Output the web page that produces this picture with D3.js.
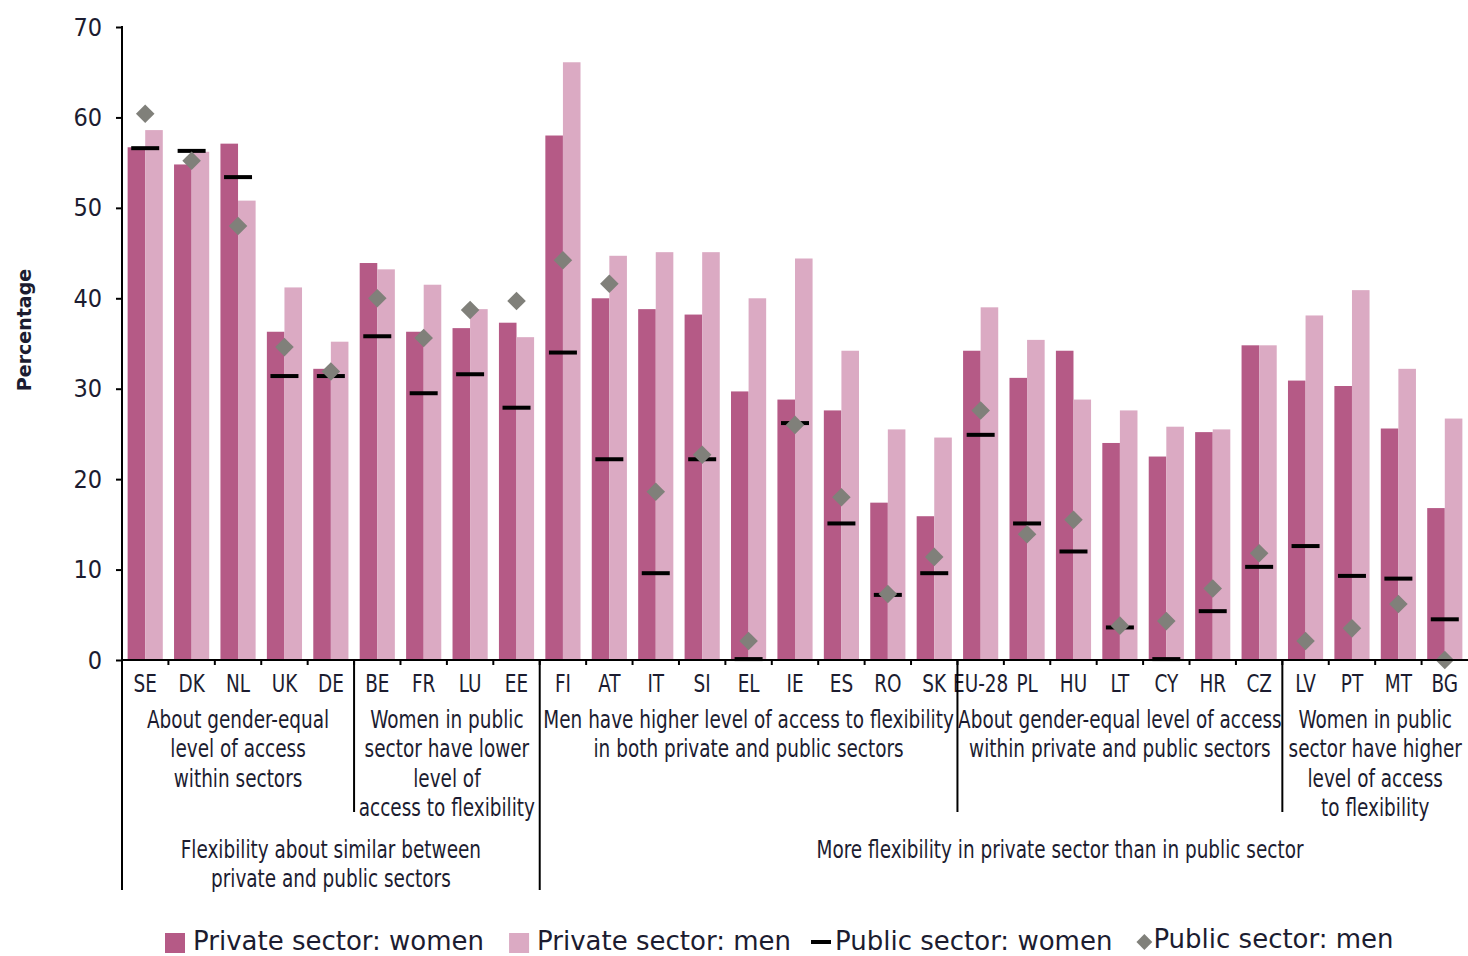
<!DOCTYPE html>
<meta charset="utf-8">
<style>
body { margin: 0; background: #fff; }
.narrow { font-family: 'Liberation Sans Narrow', 'DejaVu Sans Condensed', sans-serif; font-stretch: condensed; fill: #1c1c30; }
.legend text { font-family: 'DejaVu Sans', sans-serif; fill: #1c1c30; }
</style>
<body>
<script src="https://d3js.org/d3.v7.min.js"></script>
<script>

// data
var countries = ["SE","DK","NL","UK","DE","BE","FR","LU","EE","FI","AT","IT","SI","EL","IE","ES","RO","SK","EU-28","PL","HU","LT","CY","HR","CZ","LV","PT","MT","BG"];
var privWomen = [56.7,54.8,57.1,36.3,32.2,43.9,36.3,36.7,37.3,58.0,40.0,38.8,38.2,29.7,28.8,27.6,17.4,15.9,34.2,31.2,34.2,24.0,22.5,25.2,34.8,30.9,30.3,25.6,16.8];
var privMen   = [58.6,56.2,50.8,41.2,35.2,43.2,41.5,38.8,35.7,66.1,44.7,45.1,45.1,40.0,44.4,34.2,25.5,24.6,39.0,35.4,28.8,27.6,25.8,25.5,34.8,38.1,40.9,32.2,26.7];
var pubWomen  = [56.6,56.3,53.4,31.4,31.4,35.8,29.5,31.6,27.9,34.0,22.2,9.6,22.2,0.1,26.2,15.1,7.2,9.6,24.9,15.1,12.0,3.6,0.1,5.4,10.3,12.6,9.3,9.0,4.5];
var pubMen    = [60.4,55.2,48.0,34.6,31.9,40.0,35.6,38.7,39.7,44.2,41.6,18.6,22.7,2.1,26.0,18.0,7.3,11.4,27.6,13.9,15.5,3.8,4.3,7.9,11.8,2.1,3.5,6.2,0.0];
var yTicks = [0,10,20,30,40,50,60,70];

// inner groups: first country of each group and its label lines
var groupStarts = ["SE","BE","FI","EU-28","LV"];
var groupLabels = [
  ["About gender-equal","level of access","within sectors"],
  ["Women in public","sector have lower","level of","access to flexibility"],
  ["Men have higher level of access to flexibility","in both private and public sectors"],
  ["About gender-equal level of access","within private and public sectors"],
  ["Women in public","sector have higher","level of access","to flexibility"]
];
// outer groups
var outerStarts = ["SE","FI"];
var outerLabels = [
  ["Flexibility about similar between","private and public sectors"],
  ["More flexibility in private sector than in public sector"]
];
var legendNames = ["Private sector: women","Private sector: men","Public sector: women","Public sector: men"];

var W = 1468, H = 956;
var colWomen = "#b55a86", colMen = "#dbaac3", colDiamond = "#80807a";
var mLeft = 122, mRight = 1468, mTop = 27, base = 660;
var sx = 0.82; // squeeze for the condensed labels

var svg = d3.select("body").append("svg")
    .attr("width", W).attr("height", H);

var x = d3.scaleBand().domain(countries).range([mLeft, mRight]).padding(0);
var x1 = d3.scaleBand().domain(["w","m"]).range([0, x.bandwidth()]).paddingInner(0).paddingOuter(0.32);
var y = d3.scaleLinear().domain([0, 70]).range([base, mTop]);

var rows = countries.map(function(c, i) {
  return {c: c, w: privWomen[i], m: privMen[i], pw: pubWomen[i], pm: pubMen[i]};
});

// bars
svg.append("g").selectAll("rect").data(rows).enter().append("rect")
    .attr("x", function(d) { return x(d.c) + x1("w"); })
    .attr("y", function(d) { return y(d.w); })
    .attr("width", x1.bandwidth())
    .attr("height", function(d) { return y(0) - y(d.w); })
    .attr("fill", colWomen);

svg.append("g").selectAll("rect").data(rows).enter().append("rect")
    .attr("x", function(d) { return x(d.c) + x1("m"); })
    .attr("y", function(d) { return y(d.m); })
    .attr("width", x1.bandwidth())
    .attr("height", function(d) { return y(0) - y(d.m); })
    .attr("fill", colMen);

// public sector women: dash
svg.append("g").selectAll("line").data(rows).enter().append("line")
    .attr("x1", function(d) { return x(d.c) + x.bandwidth() / 2 - 14; })
    .attr("x2", function(d) { return x(d.c) + x.bandwidth() / 2 + 14; })
    .attr("y1", function(d) { return y(d.pw); })
    .attr("y2", function(d) { return y(d.pw); })
    .attr("stroke", "#000").attr("stroke-width", 4);

// public sector men: diamond
var diamond = d3.symbol().type(d3.symbolDiamond2).size(220);
svg.append("g").selectAll("path").data(rows).enter().append("path")
    .attr("d", diamond)
    .attr("transform", function(d) { return "translate(" + (x(d.c) + x.bandwidth() / 2) + "," + y(d.pm) + ")"; })
    .attr("fill", colDiamond);

// y axis
var yAxis = svg.append("g")
    .attr("transform", "translate(" + mLeft + ",0)")
    .call(d3.axisLeft(y).tickValues(yTicks).tickSize(6).tickPadding(14));
yAxis.select(".domain").remove();
yAxis.selectAll("line").attr("stroke", "#000").attr("stroke-width", 2);
yAxis.selectAll("text").attr("class", "narrow").style("font-size", "25px");

svg.append("line").attr("x1", mLeft).attr("x2", mLeft).attr("y1", mTop - 1).attr("y2", 890)
    .attr("stroke", "#000").attr("stroke-width", 2);
svg.append("line").attr("x1", mLeft).attr("x2", mRight).attr("y1", base).attr("y2", base)
    .attr("stroke", "#000").attr("stroke-width", 2);

// small x ticks at band boundaries
svg.append("g").selectAll("line").data(countries.slice(1)).enter().append("line")
    .attr("x1", function(c) { return x(c); }).attr("x2", function(c) { return x(c); })
    .attr("y1", base).attr("y2", base + 5)
    .attr("stroke", "#000").attr("stroke-width", 2);

// category labels
svg.append("g").selectAll("text").data(countries).enter().append("text")
    .attr("class", "narrow")
    .attr("transform", function(c) { return "translate(" + (x(c) + x.bandwidth() / 2) + ",692) scale(" + sx + ",1)"; })
    .attr("text-anchor", "middle")
    .style("font-size", "25px")
    .text(function(c) { return c; });

// group separators and labels
function groupEnd(starts, i) {
  return i + 1 < starts.length ? x(starts[i + 1]) : mRight;
}
groupStarts.forEach(function(s, i) {
  var x0 = x(s), xe = groupEnd(groupStarts, i);
  if (i > 0 && outerStarts.indexOf(s) < 0) {
    svg.append("line").attr("x1", x0).attr("x2", x0).attr("y1", base).attr("y2", 812)
        .attr("stroke", "#000").attr("stroke-width", 2);
  }
  var t = svg.append("text").attr("class", "narrow").attr("text-anchor", "middle")
      .attr("transform", "translate(" + ((x0 + xe) / 2) + ",728) scale(" + sx + ",1)")
      .style("font-size", "25px");
  groupLabels[i].forEach(function(line, j) {
    t.append("tspan").attr("x", 0).attr("dy", j ? 29.5 : 0).text(line);
  });
});

var outerCenters = [(x("SE") + x("FI")) / 2, 1060];
outerStarts.forEach(function(s, i) {
  var x0 = x(s);
  if (i > 0) {
    svg.append("line").attr("x1", x0).attr("x2", x0).attr("y1", base).attr("y2", 890)
        .attr("stroke", "#000").attr("stroke-width", 2);
  }
  var t = svg.append("text").attr("class", "narrow").attr("text-anchor", "middle")
      .attr("transform", "translate(" + outerCenters[i] + ",858) scale(" + sx + ",1)")
      .style("font-size", "25px");
  outerLabels[i].forEach(function(line, j) {
    t.append("tspan").attr("x", 0).attr("dy", j ? 29.5 : 0).text(line);
  });
});

// y axis title
svg.append("text")
    .attr("transform", "translate(31,330) rotate(-90)")
    .attr("text-anchor", "middle")
    .style("font-family", "'DejaVu Sans', sans-serif")
    .style("font-weight", "bold").style("font-size", "19px").style("fill", "#1c1c30")
    .text("Percentage");

// legend
var legend = svg.append("g").attr("class", "legend");
var lx = 165;
legendNames.forEach(function(name, i) {
  var g = legend.append("g").attr("transform", "translate(" + lx + ",942)");
  if (i < 2) {
    g.append("rect").attr("x", 0).attr("y", -9).attr("width", 20).attr("height", 20)
        .attr("fill", i === 0 ? colWomen : colMen);
  } else if (i === 2) {
    g.append("line").attr("x1", 0).attr("x2", 20).attr("y1", 0).attr("y2", 0)
        .attr("stroke", "#000").attr("stroke-width", 4);
  } else {
    g.append("path").attr("d", d3.symbol().type(d3.symbolDiamond2).size(160))
        .attr("transform", "translate(7,0)").attr("fill", colDiamond);
  }
  var tx = i === 3 ? 16 : (i === 2 ? 24 : 28);
  var t = g.append("text").attr("x", tx).attr("y", i === 3 ? 6 : 8)
      .style("font-size", "26px").text(name);
  lx += tx + t.node().getComputedTextLength() + (i === 1 ? 20 : 25);
});

</script>
</body>
